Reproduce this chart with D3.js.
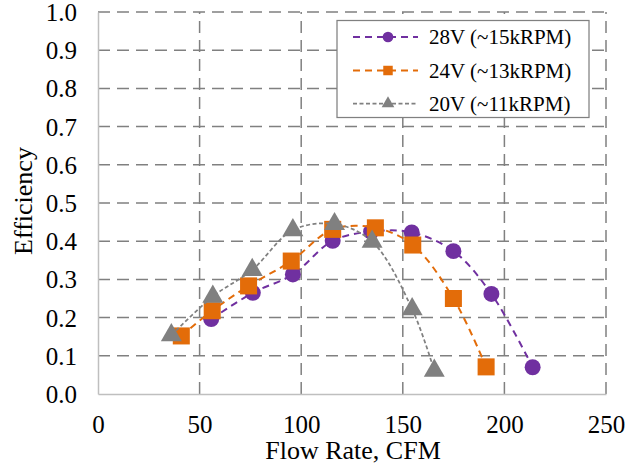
<!DOCTYPE html>
<html>
<head>
<meta charset="utf-8">
<script src="https://cdn.jsdelivr.net/npm/d3@7"></script>
<style>
  body { margin: 0; background: #fff; }
  svg { display: block; font-family: "Liberation Serif", "Times New Roman", serif; }
</style>
</head>
<body>
<div id="chart"></div>
<script>
// Flow rate (CFM) vs efficiency for three voltages
const series_names = ["28V (~15kRPM)", "24V (~13kRPM)", "20V (~11kRPM)"];
const flow28 = [55.7, 76.2, 95.9, 115.5, 134.4, 154.4, 174.9, 193.6, 213.9];
const eff28  = [0.196, 0.265, 0.313, 0.401, 0.425, 0.423, 0.374, 0.262, 0.070];
const flow24 = [41.0, 56.2, 74.1, 95.1, 115.5, 136.5, 154.9, 174.9, 191.0];
const eff24  = [0.152, 0.218, 0.283, 0.348, 0.431, 0.435, 0.390, 0.250, 0.071];
const flow20 = [36.1, 56.5, 75.9, 95.9, 116.4, 134.9, 154.6, 165.5];
const eff20  = [0.154, 0.255, 0.325, 0.429, 0.445, 0.399, 0.222, 0.061];
const xTicks = [0, 50, 100, 150, 200, 250];
const yTicks = [0, 0.1, 0.2, 0.3, 0.4, 0.5, 0.6, 0.7, 0.8, 0.9, 1.0];

const width = 637, height = 470;
const margin = {top: 12, right: 31, bottom: 76, left: 98};

const svg = d3.select("#chart").append("svg")
    .attr("width", width)
    .attr("height", height);

const x = d3.scaleLinear().domain([0, 250]).range([margin.left, width - margin.right]);
const y = d3.scaleLinear().domain([0, 1]).range([height - margin.bottom, margin.top]);

// gridlines
svg.append("g")
    .selectAll("line")
    .data(yTicks.slice(1))
    .enter().append("line")
    .attr("x1", x(0)).attr("x2", x(250))
    .attr("y1", d => y(d)).attr("y2", d => y(d))
    .attr("stroke", "#808080").attr("stroke-width", 1.5)
    .attr("stroke-dasharray", "12,7");
svg.append("g")
    .selectAll("line")
    .data(xTicks.slice(1))
    .enter().append("line")
    .attr("x1", d => x(d)).attr("x2", d => x(d))
    .attr("y1", y(0)).attr("y2", y(1))
    .attr("stroke", "#808080").attr("stroke-width", 1.5)
    .attr("stroke-dasharray", "12,7");

// axes
const xAxis = svg.append("g")
    .attr("transform", "translate(0," + y(0) + ")")
    .call(d3.axisBottom(x).tickValues(xTicks).tickSize(0).tickFormat(d3.format("d")));
xAxis.select(".domain").attr("stroke", "#bfbfbf").attr("stroke-width", 1.5);
xAxis.selectAll("text")
    .attr("dy", null).attr("y", 39)
    .attr("font-size", 25).attr("fill", "#000")
    .attr("font-family", "Liberation Serif");

const yAxis = svg.append("g")
    .attr("transform", "translate(" + x(0) + ",0)")
    .call(d3.axisLeft(y).tickValues(yTicks).tickSize(0).tickFormat(d3.format(".1f")));
yAxis.select(".domain").attr("stroke", "#bfbfbf").attr("stroke-width", 1.5);
yAxis.selectAll("text")
    .attr("x", -21).attr("dy", "0.34em")
    .attr("font-size", 25).attr("fill", "#000")
    .attr("font-family", "Liberation Serif");

// axis titles
svg.append("text")
    .attr("x", 353).attr("y", 459)
    .attr("text-anchor", "middle")
    .attr("font-size", 26)
    .text("Flow Rate, CFM");
svg.append("text")
    .attr("transform", "translate(32,201) rotate(-90)")
    .attr("text-anchor", "middle")
    .attr("font-size", 26)
    .text("Efficiency");

// series
const colors = ["#7030a0", "#e36c09", "#808080"];
const dashes = ["7,5", "7,5", "4,2.5"];
const lineWidths = [2, 2, 1.75];
const data = [
  d3.zip(flow28, eff28),
  d3.zip(flow24, eff24),
  d3.zip(flow20, eff20)
];

const line = d3.line()
    .x(d => x(d[0]))
    .y(d => y(d[1]))
    .curve(d3.curveCatmullRom.alpha(0.5));

const symbols = [d3.symbolCircle, d3.symbolSquare, d3.symbolTriangle];
const symbolSizes = [200, 290, 190];

data.forEach(function(pts, i) {
    const g = svg.append("g");
    g.append("path")
        .attr("d", line(pts))
        .attr("fill", "none")
        .attr("stroke", colors[i])
        .attr("stroke-width", lineWidths[i])
        .attr("stroke-dasharray", dashes[i]);
    g.selectAll("path.mark")
        .data(pts)
        .enter().append("path")
        .attr("class", "mark")
        .attr("transform", d => "translate(" + x(d[0]) + "," + y(d[1]) + ")")
        .attr("d", d3.symbol().type(symbols[i]).size(symbolSizes[i]))
        .attr("fill", colors[i]);
});

// legend
const legend = svg.append("g");
legend.append("rect")
    .attr("x", 337).attr("y", 20.5)
    .attr("width", 252).attr("height", 97)
    .attr("fill", "#fff")
    .attr("stroke", "#808080").attr("stroke-width", 1.25);
const legendRows = [37, 70.5, 103.5];
series_names.forEach(function(name, i) {
    const row = legend.append("g").attr("transform", "translate(0," + legendRows[i] + ")");
    row.append("line")
        .attr("x1", 353).attr("x2", 418)
        .attr("stroke", colors[i])
        .attr("stroke-width", lineWidths[i])
        .attr("stroke-dasharray", dashes[i]);
    row.append("path")
        .attr("transform", "translate(388,0)")
        .attr("d", d3.symbol().type(symbols[i]).size(i == 2 ? 70 : 90))
        .attr("fill", colors[i]);
    row.append("text")
        .attr("x", 429).attr("dy", "0.35em")
        .attr("font-size", 21)
        .text(name);
});
</script>
</body>
</html>
